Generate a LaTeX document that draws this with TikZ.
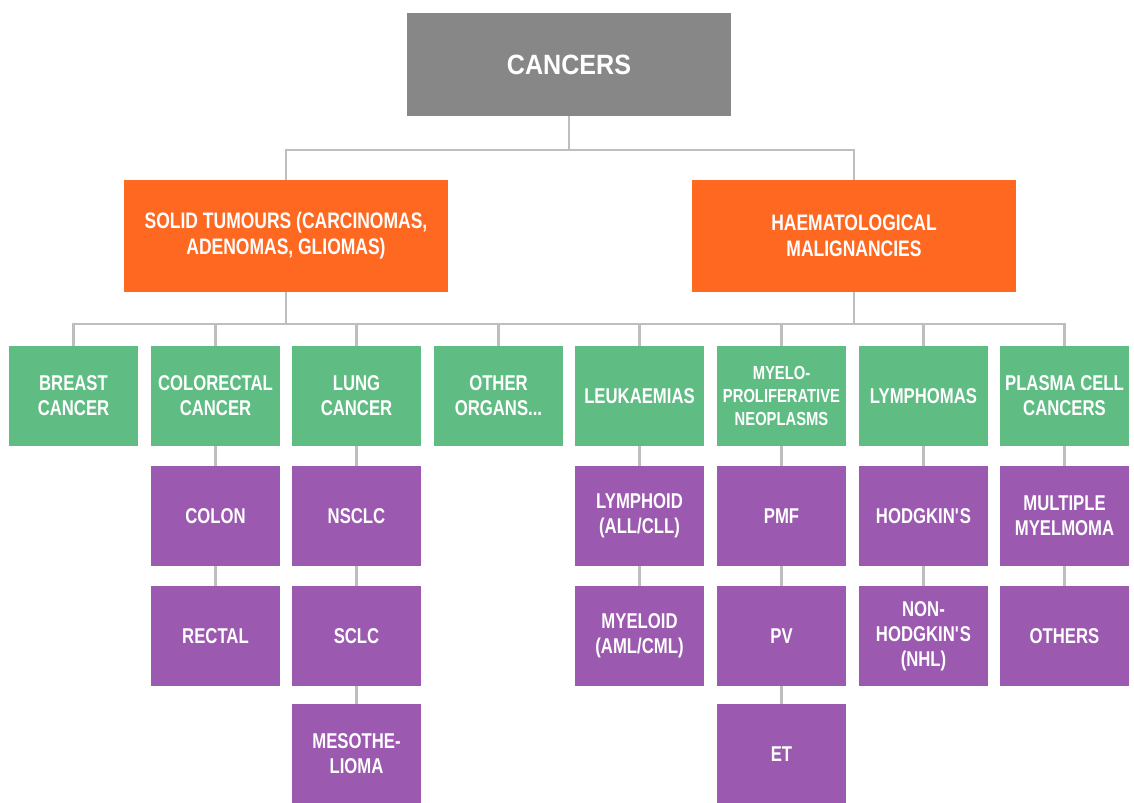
\documentclass[tikz,border=0pt]{standalone}
\usepackage{fontspec}
\setmainfont{Liberation Sans}[FakeStretch=0.78]
\newfontfamily\topfont{Liberation Sans}[FakeStretch=0.9]
\usetikzlibrary{positioning}

\definecolor{topgray}{RGB}{135,135,135}
\definecolor{grouporange}{RGB}{255,104,33}
\definecolor{typegreen}{RGB}{95,189,132}
\definecolor{subpurple}{RGB}{155,89,175}
\definecolor{linkgray}{RGB}{190,190,190}

\tikzset{
  box/.style={rectangle, inner sep=0pt, align=center, text=white},
  topbox/.style={box, fill=topgray, minimum width=324bp, minimum height=103bp,
    font=\topfont\bfseries\fontsize{28}{32}\selectfont},
  groupbox/.style={box, fill=grouporange, minimum width=324bp, minimum height=112bp,
    font=\bfseries\fontsize{22.5}{26}\selectfont},
  typebox/.style={box, fill=typegreen, minimum width=129bp, minimum height=100bp,
    font=\bfseries\fontsize{21.5}{25}\selectfont},
  subbox/.style={box, fill=subpurple, minimum width=129bp, minimum height=100bp,
    font=\bfseries\fontsize{21.5}{25}\selectfont},
  link/.style={draw=linkgray, line width=2.5bp}
}

\begin{document}
\begin{tikzpicture}[x=1bp, y=-1bp]
		\useasboundingbox (0,0) rectangle (1134,803);

		% Root
		\node[topbox] (cancers) at (569,64.5) {CANCERS};

		% Main groups
		\node[groupbox] (solid) at (286,236) {SOLID TUMOURS (CARCINOMAS,\\ADENOMAS, GLIOMAS)};
		\node[groupbox] (haem) at (854,236) {HAEMATOLOGICAL\\MALIGNANCIES};

		% Cancer types
		\node[typebox] (breast) at (73.5,396) {BREAST\\CANCER};
		\node[typebox] (colorectal) at (215.5,396) {COLORECTAL\\CANCER};
		\node[typebox] (lung) at (356.5,396) {LUNG\\CANCER};
		\node[typebox] (other) at (498.5,396) {OTHER\\ORGANS...};
		\node[typebox] (leuk) at (639.5,396) {LEUKAEMIAS};
		\node[typebox, font=\bfseries\fontsize{19}{23}\selectfont] (myelo) at (781.5,396) {MYELO-\\PROLIFERATIVE\\NEOPLASMS};
		\node[typebox] (lymph) at (923.5,396) {LYMPHOMAS};
		\node[typebox] (plasma) at (1064.5,396) {PLASMA CELL\\CANCERS};

		% Subtypes
		\node[subbox] (colon) at (215.5,516) {COLON};
		\node[subbox] (rectal) at (215.5,636) {RECTAL};
		\node[subbox] (nsclc) at (356.5,516) {NSCLC};
		\node[subbox] (sclc) at (356.5,636) {SCLC};
		\node[subbox] (meso) at (356.5,754) {MESOTHE-\\LIOMA};
		\node[subbox] (lymphoid) at (639.5,516) {LYMPHOID\\(ALL/CLL)};
		\node[subbox] (myeloid) at (639.5,636) {MYELOID\\(AML/CML)};
		\node[subbox] (pmf) at (781.5,516) {PMF};
		\node[subbox] (pv) at (781.5,636) {PV};
		\node[subbox] (et) at (781.5,754) {ET};
		\node[subbox] (hodgkin) at (923.5,516) {HODGKIN\textquotesingle S};
		\node[subbox] (nhl) at (923.5,636) {NON-\\HODGKIN\textquotesingle S\\(NHL)};
		\node[subbox] (myeloma) at (1064.5,516) {MULTIPLE\\MYELMOMA};
		\node[subbox] (others) at (1064.5,636) {OTHERS};

		% Tree links
		\draw[link] (cancers.south) -- ++(0,34) -| (solid.north);
		\draw[link] (cancers.south) -- ++(0,34) -| (haem.north);
		\foreach \t in {breast,colorectal,lung,other,leuk}
			\draw[link] (solid.south) -- ++(0,32) -| (\t.north);
		\foreach \t in {leuk,myelo,lymph,plasma}
			\draw[link] (haem.south) -- ++(0,32) -| (\t.north);
		\foreach \a/\b in {colorectal/colon,colon/rectal,lung/nsclc,nsclc/sclc,sclc/meso,
			leuk/lymphoid,lymphoid/myeloid,myelo/pmf,pmf/pv,pv/et,
			lymph/hodgkin,hodgkin/nhl,plasma/myeloma,myeloma/others}
			\draw[link] (\a) -- (\b);
	\end{tikzpicture}
\end{document}
